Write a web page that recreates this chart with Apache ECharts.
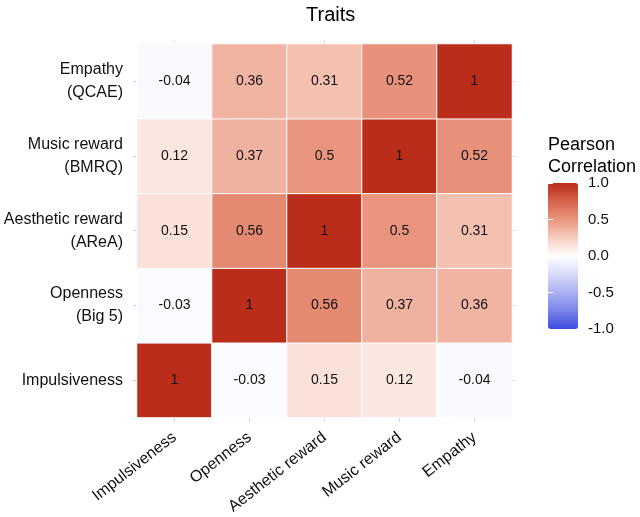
<!DOCTYPE html>
<html>
<head>
<meta charset="utf-8">
<script src="https://cdn.jsdelivr.net/npm/echarts@6/dist/echarts.min.js"></script>
<style>
html,body{margin:0;padding:0;background:#fff;}
#chart{width:640px;height:517px;}
</style>
</head>
<body>
<div id="chart"></div>
<script>
// Categories
var xCategories = ['Impulsiveness', 'Openness', 'Aesthetic reward', 'Music reward', 'Empathy'];
var yCategories = ['Impulsiveness', 'Openness\n(Big 5)', 'Aesthetic reward\n(AReA)', 'Music reward\n(BMRQ)', 'Empathy\n(QCAE)'];
// Correlation rows (bottom to top), columns follow xCategories
var rowImpulsiveness = [1, -0.03, 0.15, 0.12, -0.04];
var rowOpenness = [-0.03, 1, 0.56, 0.37, 0.36];
var rowAesthetic = [0.15, 0.56, 1, 0.5, 0.31];
var rowMusic = [0.12, 0.37, 0.5, 1, 0.52];
var rowEmpathy = [-0.04, 0.36, 0.31, 0.52, 1];
var legendTicks = [-1, -0.5, 0, 0.5, 1];

var rows = [rowImpulsiveness, rowOpenness, rowAesthetic, rowMusic, rowEmpathy];
var data = [];
rows.forEach(function (row, yi) {
  row.forEach(function (v, xi) { data.push([xi, yi, v]); });
});

var font = 'Liberation Sans, Arial, Helvetica, sans-serif';
var chart = echarts.init(document.getElementById('chart'), null, {renderer: 'canvas'});
chart.setOption({
  backgroundColor: '#ffffff',
  animation: false,
  title: {
    text: 'Traits', left: 301, top: 0,
    textStyle: {fontFamily: font, fontSize: 20, fontWeight: 'normal', color: '#000'}
  },
  grid: [
    {left: 137, top: 44, width: 375, height: 374},
    {left: 548, top: 183, width: 30, height: 146}
  ],
  xAxis: [
    {
      type: 'category', data: xCategories, gridIndex: 0, position: 'bottom',
      axisLine: {show: false},
      axisTick: {show: true, alignWithLabel: true, length: 4, lineStyle: {color: '#cccccc'}},
      axisLabel: {rotate: 38, margin: 18, fontFamily: font, fontSize: 16, color: '#111'},
      splitLine: {show: false}
    },
    {
      type: 'category', data: xCategories, gridIndex: 0, position: 'top',
      axisLine: {show: false},
      axisTick: {show: true, alignWithLabel: true, length: 4, lineStyle: {color: '#dddddd'}},
      axisLabel: {show: false}
    },
    {type: 'value', gridIndex: 1, show: false, min: 0, max: 1}
  ],
  yAxis: [
    {
      type: 'category', data: yCategories, gridIndex: 0,
      axisLine: {show: false},
      axisTick: {show: true, alignWithLabel: true, length: 4, lineStyle: {color: '#cccccc'}},
      axisLabel: {margin: 14, fontFamily: font, fontSize: 16, lineHeight: 23, color: '#111', align: 'right'},
      splitLine: {show: false}
    },
    {
      type: 'category', data: yCategories, gridIndex: 0, position: 'right',
      axisLine: {show: false},
      axisTick: {show: true, alignWithLabel: true, length: 4, lineStyle: {color: '#dddddd'}},
      axisLabel: {show: false}
    },
    {
      type: 'value', gridIndex: 1, min: -1, max: 1, interval: 0.5, position: 'right',
      axisLine: {show: false},
      axisTick: {show: true, inside: true, length: 5, lineStyle: {color: '#ffffff', width: 1}},
      axisLabel: {margin: 10, fontFamily: font, fontSize: 15, color: '#111',
        formatter: function (v) { return v.toFixed(1); }},
      splitLine: {show: false}, z: 10
    },
    {
      type: 'value', gridIndex: 1, min: -1, max: 1, interval: 0.5, position: 'left',
      axisLine: {show: false},
      axisTick: {show: true, inside: true, length: 5, lineStyle: {color: '#ffffff', width: 1}},
      axisLabel: {show: false},
      splitLine: {show: false}, z: 10
    }
  ],
  visualMap: {
    type: 'continuous', min: -1, max: 1, calculable: false, orient: 'vertical',
    left: 548, top: 183, itemWidth: 30, itemHeight: 146, padding: 0,
    text: null, showLabel: false, seriesIndex: 0,
    inRange: {color: ['#3b4be0', '#7a84e9', '#aab0f1', '#d8dbf9', '#ffffff', '#f7cdbf', '#e9957e', '#d6624b', '#bb2d1b']}
  },
  graphic: [
    {type: 'text', left: 548, top: 134, style: {text: 'Pearson\nCorrelation', font: '18px ' + font, fill: '#000', lineHeight: 22}}
  ],
  series: [{
    type: 'heatmap', xAxisIndex: 0, yAxisIndex: 0, data: data,
    itemStyle: {borderColor: '#ffffff', borderWidth: 1},
    label: {show: true, fontFamily: font, fontSize: 14, color: '#111',
      formatter: function (p) { return String(p.value[2]); }},
    emphasis: {disabled: true}
  }]
});
</script>
</body>
</html>
